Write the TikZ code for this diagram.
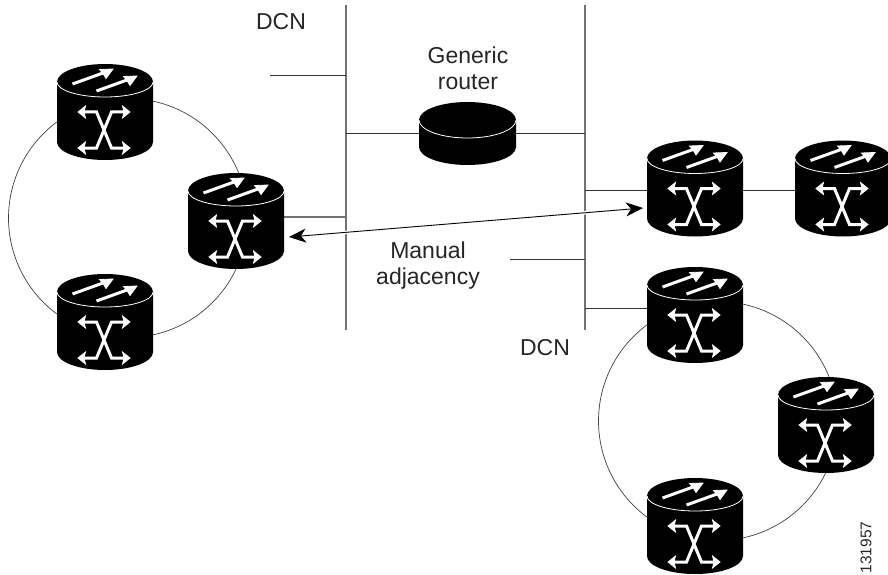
\documentclass[tikz,border=0pt]{standalone}
\usepackage{fontspec}
\setmainfont{Liberation Sans}
\usetikzlibrary{arrows.meta,calc}
\definecolor{busgray}{gray}{0.45}
\definecolor{txt}{gray}{0.15}
\tikzset{
  x=1pt,y=-1pt,
  bus/.style={draw=busgray,line width=1.3pt},
  busline/.style={draw=busgray,line width=1.3pt},
  link/.style={draw=black!80,line width=0.9pt},
  ring/.style={draw=black!75,line width=0.7pt},
  lbl/.style={font=\fontsize{23}{26}\selectfont,text=txt,align=center,inner sep=0},
  devbox/.style={minimum width=96pt,minimum height=96pt,inner sep=0,outer sep=0},
  manual/.style={draw=black,line width=0.9pt,{Stealth[length=17pt,width=14pt,inset=5pt]}-{Stealth[length=17pt,width=14pt,inset=5pt]}},
  mark line/.style={draw=white,line width=3pt},
  mark head/.style={fill=white,draw=white,line width=0.8pt,line join=miter},
  mp/.pic={
    \fill[black] (-48,-30) -- (-48,30) arc[x radius=48,y radius=-18,start angle=180,end angle=360] -- (48,-30)
      arc[x radius=48,y radius=18,start angle=0,end angle=-180] -- cycle;
    \draw[white,line width=0.8pt] (-48,-30) arc[x radius=48,y radius=-15,start angle=180,end angle=360];
    \foreach \dx/\dy in {0/0,24/7}{
      \begin{scope}[shift={(\dx,\dy)}]
        \draw[mark line] (-32.5,-28) -- (-2,-39);
        \path[mark head] (8,-43) -- (-5.5,-42.5) -- (-2,-38.5) -- (1,-33.5) -- cycle;
      \end{scope}
    }
    \draw[mark line,line join=miter] (-22,0) -- (-8.5,0) -- (6.5,36) -- (20,36);
    \draw[mark line,line join=miter] (20,0) -- (6.5,0) -- (-8.5,36) -- (-22,36);
    \foreach \yy in {0,36}{
      \path[mark head] (-27,\yy) -- (-19.5,{\yy-6}) -- (-21,\yy) -- (-19.5,{\yy+6}) -- cycle;
      \path[mark head] (25,\yy) -- (17.5,{\yy-6}) -- (19,\yy) -- (17.5,{\yy+6}) -- cycle;
    }
  }
}
\begin{document}
\begin{tikzpicture}
\useasboundingbox (0,0) rectangle (888,575);
% devices (centre of the body)
\node[devbox] (r1) at (105,112) {};
\node[devbox] (r2) at (105,322) {};
\node[devbox] (r3) at (236,221) {};
\node[devbox] (r4) at (695,188.5) {};
\node[devbox] (r5) at (843,188.5) {};
\node[devbox] (r6) at (695,315) {};
\node[devbox] (r7) at (826,425) {};
\node[devbox] (r8) at (695,526) {};
\node[devbox,minimum width=97pt,minimum height=63pt] (gr) at (467.5,133.5) {};
% buses
\coordinate (b1t) at (346,5); \coordinate (b1b) at (346,330);
\coordinate (b2t) at (585,5); \coordinate (b2b) at (585,330);
\draw[bus] (b1t) -- (b1b);
\draw[bus] (b2t) -- (b2b);
\coordinate (s1) at (270,75.5);
\coordinate (s2) at (510,259.5);
\draw[link] (s1) -- (s1 -| b1t);
\draw[link] (s2) -- (s2 -| b2t);
\draw[link] (b1t |- gr) -- (gr) -- (b2t |- gr);
\coordinate (j3) at ($(r3.center)+(0,-4)$);
\coordinate (j4) at ($(r4.center)+(0,2)$);
\coordinate (j6) at ($(r6.center)+(0,-6.5)$);
\draw[busline] (j3) -- (j3 -| b1t);
\draw[link] (j4 -| b2t) -- (j4) -- (j4 -| r5.center);
\draw[link] (j6 -| b2t) -- (j6);
% rings
\coordinate (cl) at (128,218);
\coordinate (cr) at (718,421);
\foreach \c in {cl,cr}{
  \draw[ring] ([shift={(-80:119.5)}]\c) arc[radius=119.5,start angle=-80,end angle=-20];
  \draw[ring] ([shift={(20:119.5)}]\c) arc[radius=119.5,start angle=20,end angle=80];
  \draw[ring] ([shift={(125:119.5)}]\c) arc[radius=119.5,start angle=125,end angle=235];
}
% routers
\foreach \n in {r1,r2,r3,r4,r5,r6,r7,r8}{ \pic at (\n) {mp}; }
% generic router
\fill[black] (419,120) -- (419,147) arc[x radius=48.5,y radius=-18,start angle=180,end angle=360] -- (516,120)
  arc[x radius=48.5,y radius=18,start angle=0,end angle=-180] -- cycle;
\draw[white,line width=0.8pt] (419,120) arc[x radius=48.5,y radius=-18,start angle=180,end angle=360];
% manual adjacency
\coordinate (m1) at ($(r3.east)+(5,16)$);
\coordinate (m2) at ($(r4.west)+(-4,19.5)$);
\draw[white,line width=3.5pt,shorten <=30pt,shorten >=30pt] (m1) -- (m2);
\draw[manual] (m1) -- (m2);
% labels
\node[lbl,anchor=base] (t1) at (281,30) {DCN};
\node[lbl] (t2) at (468,68.5) {Generic\\router};
\node[lbl] (t3) at (428,266) {Manual\\adjacency};
\node[lbl,anchor=base] (t4) at (545,355) {DCN};
\node[lbl,font=\fontsize{15.5}{17}\selectfont,rotate=90] (t5) at (866,547.5) {131957};
\end{tikzpicture}
\end{document}
